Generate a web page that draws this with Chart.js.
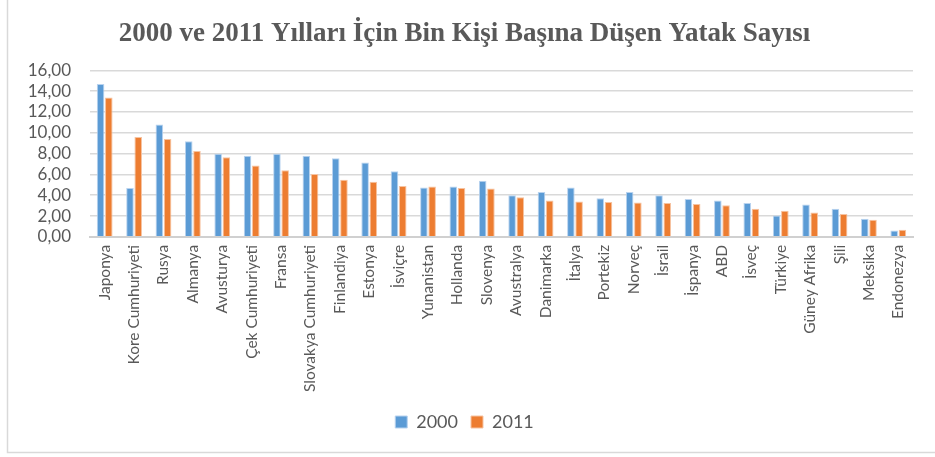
<!DOCTYPE html>
<html>
<head>
<meta charset="utf-8">
<script src="https://cdn.jsdelivr.net/npm/chart.js@4"></script>
<style>
  html, body { margin: 0; padding: 0; background: #fff; }
  #wrap { width: 935px; height: 457px; }
</style>
</head>
<body>
<div id="wrap"><canvas id="chart"></canvas></div>
<script>
// bin kişi başına yatak sayısı
const countries = ["Japonya", "Kore Cumhuriyeti", "Rusya", "Almanya", "Avusturya", "Çek Cumhuriyeti",
  "Fransa", "Slovakya Cumhuriyeti", "Finlandiya", "Estonya", "İsviçre", "Yunanistan", "Hollanda",
  "Slovenya", "Avustralya", "Danimarka", "İtalya", "Portekiz", "Norveç", "İsrail", "İspanya", "ABD",
  "İsveç", "Türkiye", "Güney Afrika", "Şili", "Meksika", "Endonezya"];
const beds2000 = [14.7, 4.7, 10.8, 9.2, 8.0, 7.8, 8.0, 7.8, 7.55, 7.15, 6.3, 4.75, 4.85, 5.4,
  4.0, 4.3, 4.75, 3.7, 4.3, 4.0, 3.65, 3.5, 3.25, 2.05, 3.1, 2.7, 1.75, 0.6];
const beds2011 = [13.4, 9.6, 9.4, 8.25, 7.65, 6.85, 6.4, 6.05, 5.5, 5.3, 4.9, 4.85, 4.7, 4.65,
  3.8, 3.5, 3.4, 3.35, 3.3, 3.25, 3.15, 3.05, 2.7, 2.5, 2.35, 2.2, 1.65, 0.68];
const yTicks = [0, 2, 4, 6, 8, 10, 12, 14, 16];

const frame = {
  id: 'frame',
  beforeDraw(chart) {
    const c = chart.ctx;
    c.save();
    c.strokeStyle = '#d9d9d9';
    c.lineWidth = 1.5;
    c.beginPath();
    c.moveTo(7.5, 0);
    c.lineTo(7.5, 452.5);
    c.lineTo(935, 452.5);
    c.stroke();
    c.restore();
  }
};

new Chart(document.getElementById('chart'), {
  type: 'bar',
  data: {
    labels: countries,
    datasets: [{
      label: '2000',
      data: beds2000,
      backgroundColor: '#5b9bd5',
      borderColor: '#b9d3ef',
      borderWidth: 1
    }, {
      label: '2011',
      data: beds2011,
      backgroundColor: '#ed7d31',
      borderColor: '#f6c3a1',
      borderWidth: 1
    }]
  },
  options: {
    responsive: true,
    maintainAspectRatio: false,
    animation: false,
    layout: { padding: { left: 16, right: 22, top: 0, bottom: 16 } },
    datasets: { bar: { barPercentage: 0.92, categoryPercentage: 0.56 } },
    plugins: {
      title: {
        display: true,
        text: '2000 ve 2011 Yılları İçin Bin Kişi Başına Düşen Yatak Sayısı',
        color: '#595959',
        font: { family: 'Liberation Serif', size: 27, weight: 'bold' },
        padding: { top: 18, bottom: 20 }
      },
      legend: {
        position: 'bottom',
        labels: {
          color: '#595959',
          font: { family: 'Lato', size: 18 },
          boxWidth: 12,
          boxHeight: 12,
          padding: 13
        }
      },
      tooltip: { enabled: false }
    },
    scales: {
      x: {
        grid: { display: false, drawTicks: false },
        border: { color: '#d0d0d0', width: 2 },
        ticks: {
          color: '#595959',
          font: { family: 'Lato', size: 15.5 },
          minRotation: 90,
          maxRotation: 90,
          autoSkip: false,
          padding: 8
        }
      },
      y: {
        min: 0,
        max: 16,
        afterBuildTicks(s) { s.ticks = yTicks.map(v => ({ value: v })); },
        afterFit(s) { s.width = 74; },
        grid: { color: '#d9d9d9', lineWidth: 1.5, drawTicks: false },
        border: { display: false },
        ticks: {
          color: '#595959',
          font: { family: 'Lato', size: 17 },
          padding: 19,
          autoSkip: false,
          callback: v => v.toFixed(2).replace('.', ',')
        }
      }
    }
  },
  plugins: [frame]
});
</script>
</body>
</html>
